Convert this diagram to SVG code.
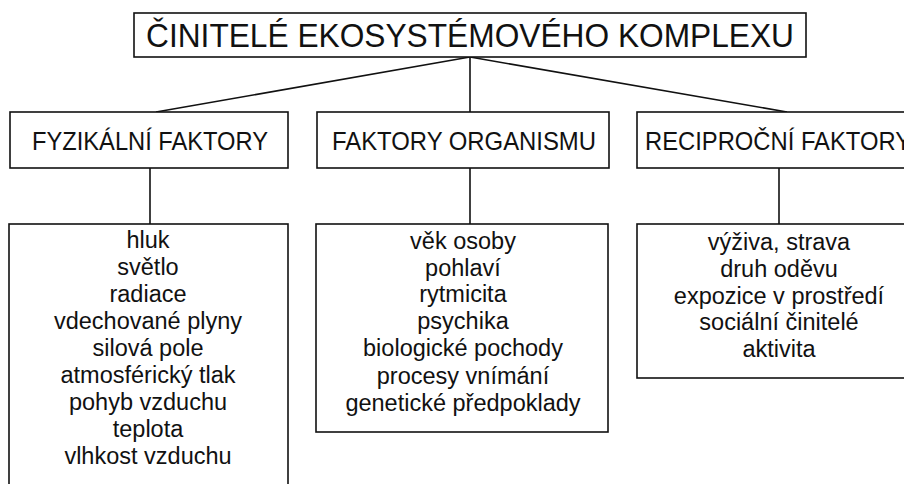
<svg xmlns="http://www.w3.org/2000/svg" width="904" height="484" viewBox="0 0 904 484">
<style>
.box{fill:#fff;stroke:#111;stroke-width:1.6}
.t{font-family:"Liberation Sans",Arial,sans-serif;fill:#111;text-anchor:middle}
.title{font-size:34px}
.head{font-size:25.5px}
.item{font-size:23.5px}
.conn line{stroke:#111;stroke-width:1.6}
</style>
<rect width="904" height="484" fill="#fff"/>
<g id="connectors" class="conn">
<line x1="470" y1="57" x2="156" y2="112"/>
<line x1="470" y1="57" x2="470" y2="112"/>
<line x1="470" y1="57" x2="787" y2="112"/>
<line x1="150" y1="168" x2="150" y2="224"/>
<line x1="470" y1="168" x2="470" y2="224"/>
<line x1="779" y1="168" x2="779" y2="224"/>
</g>
<g id="title">
<rect class="box" x="134" y="13" width="672" height="44"/>
<text class="t title" x="470" y="47" textLength="648" lengthAdjust="spacingAndGlyphs">ČINITELÉ EKOSYSTÉMOVÉHO KOMPLEXU</text>
</g>
<g id="fyzikalni">
<rect class="box" x="10" y="112" width="278" height="56"/>
<text class="t head" x="150" y="150" textLength="236" lengthAdjust="spacingAndGlyphs">FYZIKÁLNÍ FAKTORY</text>
</g>
<g id="organismu">
<rect class="box" x="317" y="112" width="292" height="56"/>
<text class="t head" x="464" y="150" textLength="264" lengthAdjust="spacingAndGlyphs">FAKTORY ORGANISMU</text>
</g>
<g id="reciprocni">
<rect class="box" x="637" y="112" width="290" height="56"/>
<text class="t head" x="778" y="150" textLength="266" lengthAdjust="spacingAndGlyphs">RECIPROČNÍ FAKTORY</text>
</g>
<g id="fyzikalni-list">
<rect class="box" x="9" y="224" width="279" height="262"/>
<text class="t item" x="148" y="248">hluk</text>
<text class="t item" x="148" y="275">světlo</text>
<text class="t item" x="148" y="302">radiace</text>
<text class="t item" x="148" y="329">vdechované plyny</text>
<text class="t item" x="148" y="356">silová pole</text>
<text class="t item" x="148" y="383">atmosférický tlak</text>
<text class="t item" x="148" y="410">pohyb vzduchu</text>
<text class="t item" x="148" y="437">teplota</text>
<text class="t item" x="148" y="464">vlhkost vzduchu</text>
</g>
<g id="organismu-list">
<rect class="box" x="316" y="224" width="292" height="208"/>
<text class="t item" x="463" y="249">věk osoby</text>
<text class="t item" x="463" y="276">pohlaví</text>
<text class="t item" x="463" y="302">rytmicita</text>
<text class="t item" x="463" y="329">psychika</text>
<text class="t item" x="463" y="356">biologické pochody</text>
<text class="t item" x="463" y="384">procesy vnímání</text>
<text class="t item" x="463" y="411">genetické předpoklady</text>
</g>
<g id="reciprocni-list">
<rect class="box" x="637" y="224" width="290" height="154"/>
<text class="t item" x="779" y="250">výživa, strava</text>
<text class="t item" x="779" y="277">druh oděvu</text>
<text class="t item" x="779" y="304">expozice v prostředí</text>
<text class="t item" x="779" y="330">sociální činitelé</text>
<text class="t item" x="779" y="357">aktivita</text>
</g>
</svg>
